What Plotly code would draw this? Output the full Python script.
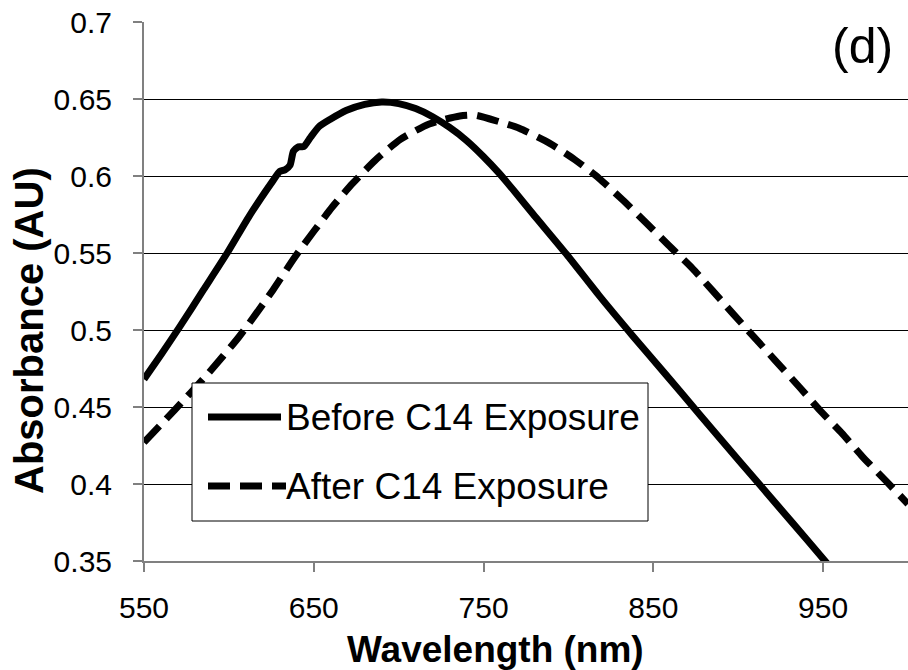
import plotly.graph_objects as go

# ---------------- data ----------------
before_name = "Before C14 Exposure"
after_name = "After C14 Exposure"

before_nm = [550, 560, 571, 585, 599, 612, 626, 630, 633, 636, 638, 641, 644,
             648, 653, 660, 669, 680, 690, 700, 710, 720, 730, 740, 750, 759, 769, 779,
             799, 818, 838, 857, 877, 901, 924, 940, 955]
before_abs = [0.468, 0.484, 0.502, 0.526, 0.550, 0.574, 0.597, 0.603, 0.604,
              0.607, 0.616, 0.619, 0.619, 0.625, 0.632, 0.637, 0.6425, 0.6465, 0.648, 0.647,
              0.6438, 0.6385, 0.6315, 0.623, 0.6125, 0.602, 0.589, 0.5755, 0.549, 0.5225,
              0.496, 0.4715, 0.4455, 0.4145, 0.385, 0.3645, 0.345]

after_nm = [550, 568, 587, 606, 626, 639, 661, 673, 686, 701, 718, 736, 745, 759, 771,
            789, 804, 818, 832, 846, 859, 873, 897, 908, 922, 936, 948, 961, 973, 987, 1000]
after_abs = [0.427, 0.448, 0.4708, 0.4956, 0.526, 0.5476, 0.580, 0.5953, 0.610, 0.6238,
             0.6338, 0.639, 0.6395, 0.6353, 0.631, 0.6212, 0.6104, 0.5985, 0.5844, 0.5693,
             0.555, 0.540, 0.5105, 0.497, 0.480, 0.463, 0.448, 0.433, 0.418, 0.402, 0.387]

x_ticks = [550, 650, 750, 850, 950]
y_ticks = [0.35, 0.4, 0.45, 0.5, 0.55, 0.6, 0.65, 0.7]
y_tick_text = ["0.35", "0.4", "0.45", "0.5", "0.55", "0.6", "0.65", "0.7"]

x_title = "Wavelength (nm)"
y_title = "Absorbance (AU)"
panel_label = "(d)"

# ---------------- layout helpers ----------------
W, H = 908, 670
L, R, T, B = 144, 0, 22, 109
PW, PH = W - L - R, H - T - B


def px(x):
    return (x - L) / PW


def py(y):
    return (H - B - y) / PH


FONT = "Arial, Liberation Sans, sans-serif"
LW = 7
DASH = "22px,10px"

fig = go.Figure()
fig.add_trace(go.Scatter(x=before_nm, y=before_abs, name=before_name, mode="lines",
                         line=dict(color="black", width=LW, shape="spline", smoothing=0.6),
                         showlegend=False))
fig.add_trace(go.Scatter(x=after_nm, y=after_abs, name=after_name, mode="lines",
                         line=dict(color="black", width=LW, dash=DASH,
                                   shape="spline", smoothing=0.6),
                         showlegend=False))

# custom legend (box, samples, labels)
shapes = [
    dict(type="rect", xref="paper", yref="paper", x0=px(192), x1=px(648), y0=py(521), y1=py(383),
         line=dict(color="black", width=1), fillcolor="white", layer="above"),
    dict(type="line", xref="paper", yref="paper", x0=px(208), x1=px(281), y0=py(417), y1=py(417),
         line=dict(color="black", width=LW), layer="above"),
    dict(type="line", xref="paper", yref="paper", x0=px(208), x1=px(286), y0=py(486), y1=py(486),
         line=dict(color="black", width=LW, dash=DASH), layer="above"),
]

annotations = [
    dict(text=fig.data[0].name, xref="paper", yref="paper", x=px(284), y=py(418),
         xanchor="left", yanchor="middle", showarrow=False,
         font=dict(family=FONT, size=37, color="black")),
    dict(text=fig.data[1].name, xref="paper", yref="paper", x=px(284), y=py(486),
         xanchor="left", yanchor="middle", showarrow=False,
         font=dict(family=FONT, size=37, color="black")),
    dict(text=panel_label, xref="paper", yref="paper", x=px(862), y=py(46),
         xanchor="center", yanchor="middle", showarrow=False,
         font=dict(family=FONT, size=50, color="black")),
    dict(text="<b>" + x_title + "</b>", xref="paper", yref="paper", x=px(495), y=py(649),
         xanchor="center", yanchor="middle", showarrow=False,
         font=dict(family=FONT, size=37, color="black")),
    dict(text="<b>" + y_title + "</b>", xref="paper", yref="paper", x=px(29), y=py(331),
         xanchor="center", yanchor="middle", showarrow=False, textangle=-90,
         font=dict(family=FONT, size=40, color="black")),
]

fig.update_layout(
    width=W, height=H,
    margin=dict(l=L, r=R, t=T, b=B, pad=0),
    paper_bgcolor="white", plot_bgcolor="white",
    showlegend=False,
    shapes=shapes, annotations=annotations,
    font=dict(family=FONT, color="black"),
)
fig.update_xaxes(range=[550, 1000], tickvals=x_ticks, ticks="outside", ticklen=9,
                 tickwidth=2, tickcolor="#808080", showline=True, linecolor="#808080",
                 linewidth=2, showgrid=False, zeroline=False,
                 tickfont=dict(family=FONT, size=30, color="black"), ticklabelstandoff=10)
fig.update_yaxes(range=[0.35, 0.7], tickvals=y_ticks, ticktext=y_tick_text, ticks="outside",
                 ticklen=9, tickwidth=2, tickcolor="#808080", showline=True,
                 linecolor="#808080", linewidth=2, showgrid=True, gridcolor="black",
                 gridwidth=1, zeroline=False,
                 tickfont=dict(family=FONT, size=30, color="black"), ticklabelstandoff=15)

fig.write_html("out.html")
